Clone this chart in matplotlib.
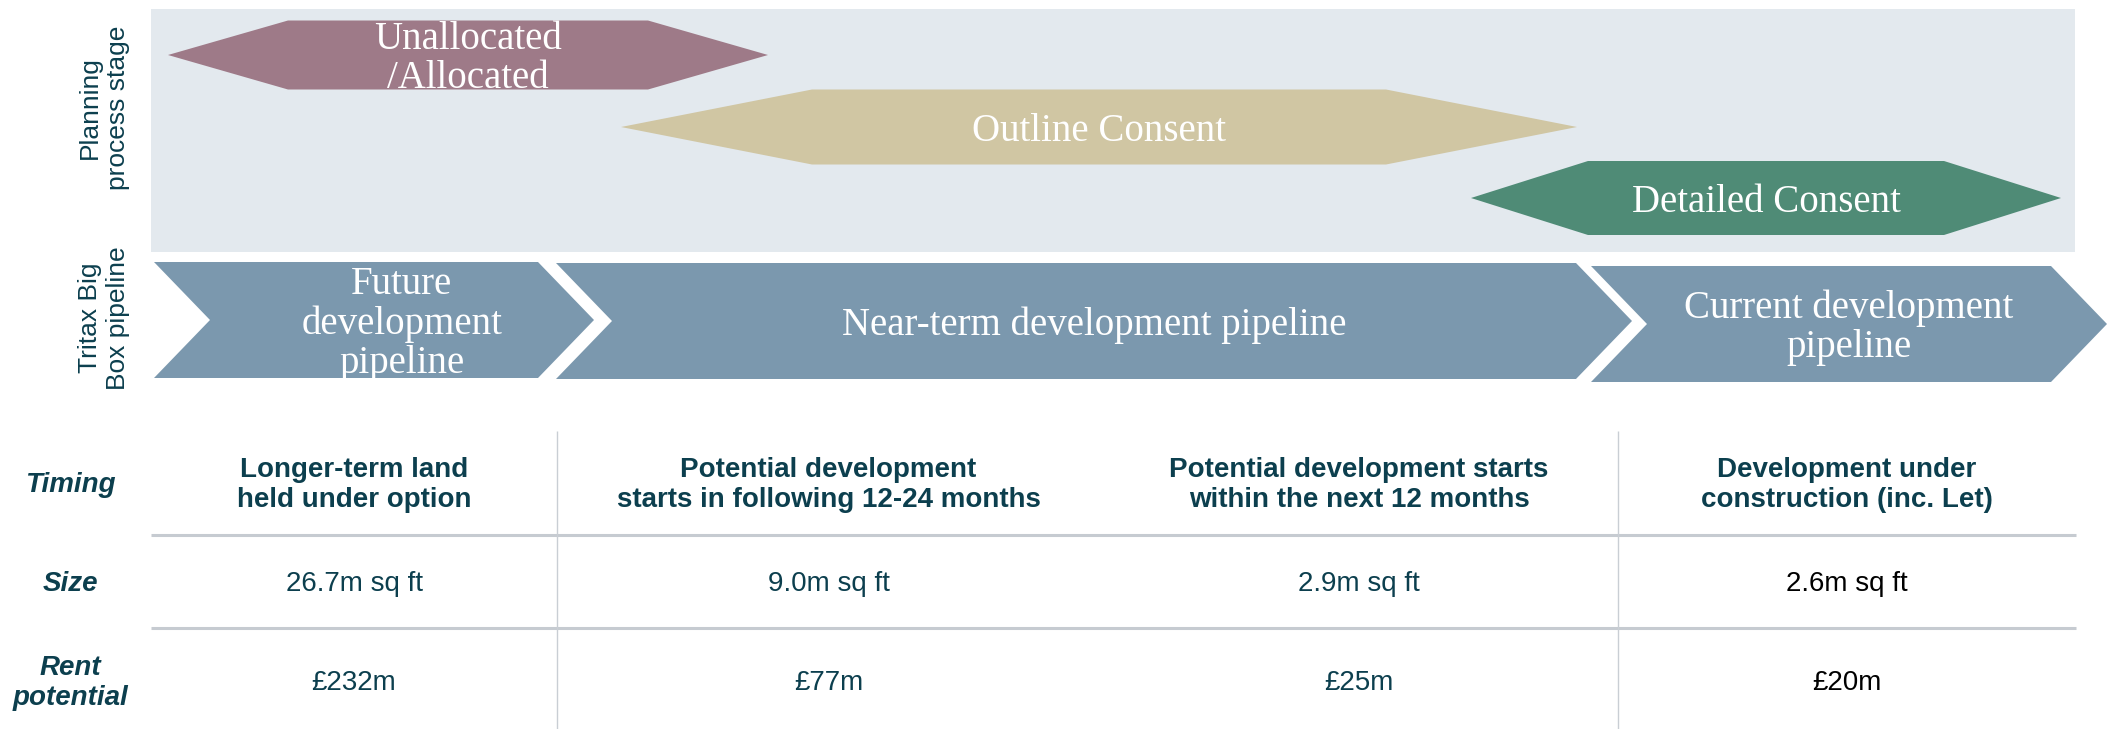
import matplotlib
matplotlib.use("Agg")
import matplotlib.pyplot as plt
from matplotlib.patches import Polygon, Rectangle

# planning process stages (extent along the timeline, pixel units)
plan_labels = ["Unallocated\n/Allocated", "Outline Consent", "Detailed Consent"]
plan_start = [168, 621, 1471]
plan_end = [768, 1577, 2061]
plan_row_y = [55, 127, 198]
plan_colors = ["#9e7a88", "#d0c6a3", "#4f8b76"]

# pipeline chevrons
pipe_labels = ["Future\ndevelopment\npipeline", "Near-term development pipeline",
               "Current development\npipeline"]
pipe_start = [154, 556, 1591]
pipe_end = [594, 1632, 2107]
pipe_top = [262, 263, 266]
pipe_bot = [378, 379, 382]
pipe_text_x = [402, 1094, 1849]

# table
row_labels = ["Timing", "Size", "Rent\npotential"]
timing = ["Longer-term land\nheld under option",
          "Potential development\nstarts in following 12-24 months",
          "Potential development starts\nwithin the next 12 months",
          "Development under\nconstruction (inc. Let)"]
size = ["26.7m sq ft", "9.0m sq ft", "2.9m sq ft", "2.6m sq ft"]
rent = ["£232m", "£77m", "£25m", "£20m"]
col_edges = [151, 557, 1100, 1618, 2076]
row_y = [485, 584, 683]
row_lines = [535, 628]
col_lines = [557, 1618]

TEAL = "#0c3f4e"
SERIF = ["Liberation Serif", "DejaVu Serif"]
SANS = ["Liberation Sans", "DejaVu Sans"]

W, H = 2112, 729
fig = plt.figure(figsize=(W / 100, H / 100), dpi=100)
ax = fig.add_axes([0, 0, 1, 1])
ax.set_xlim(0, W)
ax.set_ylim(H, 0)
ax.axis("off")

# background panel for planning stage
ax.add_patch(Rectangle((151, 9), 2075 - 151, 252 - 9, facecolor="#e3e9ee", edgecolor="none"))

hex_h = [69, 75, 74]
hex_tip = [120, 191, 117]
for lab, x0, x1, yc, c, h, t in zip(plan_labels, plan_start, plan_end, plan_row_y,
                                      plan_colors, hex_h, hex_tip):
    pts = [(x0, yc), (x0 + t, yc - h / 2), (x1 - t, yc - h / 2), (x1, yc),
           (x1 - t, yc + h / 2), (x0 + t, yc + h / 2)]
    ax.add_patch(Polygon(pts, closed=True, facecolor=c, edgecolor="none"))
    ax.text((x0 + x1) / 2, yc + 4, lab, ha="center", va="center", color="white",
            fontsize=28, family=SERIF, linespacing=1.1)

depth = 56
for lab, x0, x1, yt, yb, tx in zip(pipe_labels, pipe_start, pipe_end, pipe_top,
                                   pipe_bot, pipe_text_x):
    ym = (yt + yb) / 2
    pts = [(x0, yt), (x1 - depth, yt), (x1, ym), (x1 - depth, yb), (x0, yb), (x0 + depth, ym)]
    ax.add_patch(Polygon(pts, closed=True, facecolor="#7b98ae", edgecolor="none"))
    ax.text(tx, ym + 4, lab, ha="center", va="center", color="white",
            fontsize=28, family=SERIF, linespacing=1.08)

# side labels
ax.text(104, 108, "Planning\nprocess stage", rotation=90, ha="center", va="center",
        color=TEAL, fontsize=19, family=SANS, linespacing=1.25)
ax.text(104, 318, "Tritax Big\nBox pipeline", rotation=90, ha="center", va="center",
        color=TEAL, fontsize=19, family=SANS, linespacing=1.25)

# table grid
for y in row_lines:
    ax.plot([col_edges[0], col_edges[-1]], [y, y], color="#c6cbd1", lw=2.2, solid_capstyle="butt")
for x in col_lines:
    ax.plot([x, x], [431, H], color="#c9ced4", lw=1, solid_capstyle="butt")

for lab, y in zip(row_labels, row_y):
    ax.text(70, y, lab, ha="center", va="center", color=TEAL, fontsize=20,
            family=SANS, weight="bold", style="italic", linespacing=1.22)

centres = [(a + b) / 2 for a, b in zip(col_edges[:-1], col_edges[1:])]
for i, cx in enumerate(centres):
    vcol = "black" if i == 3 else TEAL
    ax.text(cx, row_y[0], timing[i], ha="center", va="center", color=TEAL,
            fontsize=20, family=SANS, weight="bold", linespacing=1.22)
    ax.text(cx, row_y[1], size[i], ha="center", va="center", color=vcol,
            fontsize=20, family=SANS)
    ax.text(cx, row_y[2], rent[i], ha="center", va="center", color=vcol,
            fontsize=20, family=SANS)

fig.savefig("out.png", dpi=100)
